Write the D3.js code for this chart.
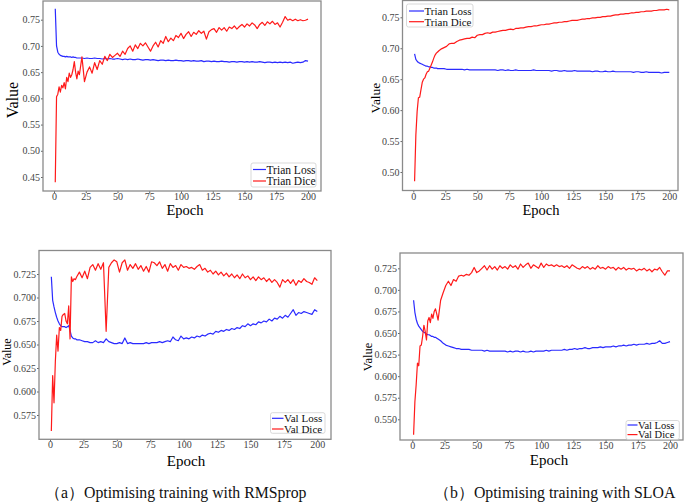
<!DOCTYPE html>
<html>
<head>
<meta charset="utf-8">
<script src="https://cdn.jsdelivr.net/npm/d3@7"></script>
<style>
body { margin: 0; background: #fff; }
svg text { font-family: "Liberation Serif", "DejaVu Serif", serif; }
.axis text { fill: #444; font-size: 10px; font-family: "Liberation Serif", "DejaVu Serif", serif; }
.axis line { stroke: #666; }
</style>
</head>
<body>
<svg id="chart" width="685" height="504"></svg>
<script>
var epochs = [1,2,3,4,5,6,7,8,9,10,11,12,13,14,15,16,17,18,19,20,
	22,24,26,28,30,32,34,36,38,40,42,44,46,48,50,52,54,56,58,60,
	62,64,66,68,70,72,74,76,78,80,82,84,86,88,90,92,94,96,98,100,
	102,104,106,108,110,112,114,116,118,120,122,124,126,128,130,132,134,136,138,140,
	142,144,146,148,150,152,154,156,158,160,162,164,166,168,170,172,174,176,178,180,
	182,184,186,188,190,192,194,196,198,200];

// (a) RMSprop, training
var rmsTrainLoss = [0.771,0.700,0.688,0.684,0.682,0.681,0.680,0.680,0.679,0.680,0.679,0.679,0.679,0.678,0.679,0.678,0.678,0.677,0.677,0.677,
	0.677,0.676,0.677,0.676,0.676,0.677,0.676,0.676,0.675,0.676,0.675,0.676,0.675,0.675,0.676,0.675,0.674,0.675,0.674,0.675,
	0.674,0.674,0.675,0.674,0.673,0.674,0.674,0.673,0.674,0.673,0.672,0.673,0.673,0.672,0.673,0.672,0.672,0.673,0.672,0.672,
	0.671,0.672,0.672,0.671,0.672,0.671,0.671,0.672,0.670,0.671,0.671,0.670,0.671,0.670,0.670,0.671,0.670,0.670,0.669,0.670,
	0.670,0.669,0.670,0.670,0.669,0.670,0.669,0.670,0.669,0.669,0.670,0.669,0.668,0.669,0.669,0.668,0.669,0.668,0.669,0.668,
	0.669,0.668,0.669,0.667,0.668,0.669,0.668,0.669,0.672,0.671];
var rmsTrainDice = [0.440,0.603,0.608,0.622,0.612,0.625,0.620,0.630,0.618,0.640,0.632,0.648,0.640,0.645,0.655,0.670,0.650,0.637,0.652,0.645,
	0.679,0.632,0.650,0.660,0.648,0.668,0.655,0.672,0.665,0.680,0.672,0.684,0.678,0.682,0.686,0.680,0.690,0.684,0.695,0.700,
	0.690,0.702,0.695,0.705,0.700,0.706,0.698,0.690,0.700,0.707,0.698,0.710,0.705,0.718,0.708,0.715,0.710,0.720,0.716,0.724,
	0.714,0.722,0.727,0.718,0.726,0.722,0.729,0.724,0.728,0.713,0.727,0.731,0.733,0.726,0.735,0.730,0.735,0.728,0.736,0.733,
	0.738,0.732,0.737,0.741,0.736,0.742,0.738,0.744,0.740,0.733,0.741,0.745,0.739,0.746,0.742,0.747,0.741,0.744,0.736,0.745,
	0.756,0.749,0.751,0.748,0.751,0.748,0.750,0.748,0.749,0.751];

// (b) SLOA, training
var sloaTrainLoss = [0.691,0.682,0.679,0.677,0.676,0.675,0.674,0.673,0.672,0.671,0.671,0.670,0.670,0.669,0.669,0.668,0.668,0.668,0.667,0.667,
	0.667,0.667,0.666,0.666,0.666,0.666,0.666,0.666,0.666,0.665,0.666,0.665,0.665,0.665,0.665,0.665,0.665,0.665,0.665,0.665,
	0.665,0.665,0.664,0.665,0.665,0.664,0.665,0.664,0.664,0.665,0.664,0.664,0.664,0.664,0.664,0.664,0.665,0.664,0.664,0.664,
	0.664,0.664,0.664,0.663,0.664,0.664,0.663,0.663,0.664,0.663,0.663,0.663,0.664,0.663,0.663,0.663,0.663,0.663,0.663,0.662,
	0.663,0.663,0.662,0.662,0.663,0.662,0.662,0.663,0.662,0.662,0.662,0.662,0.662,0.662,0.662,0.661,0.662,0.662,0.661,0.661,
	0.662,0.661,0.661,0.661,0.661,0.661,0.660,0.661,0.661,0.661];
var sloaTrainDice = [0.485,0.560,0.598,0.620,0.621,0.633,0.645,0.650,0.652,0.658,0.662,0.663,0.668,0.673,0.678,0.684,0.689,0.692,0.694,0.696,
	0.699,0.701,0.703,0.707,0.708,0.708,0.711,0.713,0.714,0.715,0.716,0.716,0.718,0.717,0.721,0.722,0.722,0.724,0.725,0.724,
	0.726,0.726,0.727,0.728,0.729,0.729,0.730,0.731,0.730,0.732,0.732,0.733,0.733,0.734,0.735,0.735,0.736,0.736,0.737,0.738,
	0.738,0.739,0.739,0.740,0.741,0.741,0.742,0.742,0.743,0.743,0.744,0.745,0.745,0.745,0.746,0.747,0.747,0.748,0.748,0.749,
	0.749,0.750,0.750,0.751,0.751,0.752,0.752,0.753,0.754,0.754,0.755,0.755,0.756,0.756,0.757,0.757,0.758,0.758,0.759,0.759,
	0.760,0.760,0.760,0.761,0.761,0.762,0.762,0.762,0.763,0.762];

// (a) RMSprop, validation
var rmsValLoss = [0.722,0.697,0.690,0.684,0.679,0.675,0.672,0.670,0.669,0.669,0.669,0.668,0.669,0.670,0.665,0.659,0.657,0.656,0.656,0.655,
	0.655,0.654,0.653,0.653,0.652,0.652,0.654,0.652,0.653,0.652,0.656,0.653,0.652,0.651,0.651,0.652,0.651,0.657,0.651,0.652,
	0.651,0.651,0.651,0.651,0.651,0.652,0.651,0.652,0.652,0.652,0.653,0.652,0.653,0.654,0.653,0.658,0.655,0.654,0.659,0.656,
	0.657,0.656,0.658,0.657,0.659,0.658,0.660,0.659,0.661,0.662,0.661,0.664,0.663,0.665,0.664,0.666,0.665,0.667,0.666,0.668,
	0.667,0.670,0.669,0.672,0.670,0.672,0.671,0.674,0.673,0.675,0.674,0.677,0.675,0.678,0.677,0.680,0.678,0.681,0.679,0.683,
	0.687,0.681,0.684,0.683,0.685,0.684,0.683,0.682,0.687,0.685];
var rmsValDice = [0.558,0.617,0.588,0.632,0.660,0.643,0.668,0.665,0.680,0.682,0.683,0.675,0.672,0.691,0.656,0.722,0.717,0.720,0.719,0.722,
	0.727,0.721,0.728,0.720,0.732,0.735,0.729,0.736,0.730,0.737,0.664,0.732,0.737,0.740,0.738,0.727,0.737,0.740,0.729,0.735,
	0.731,0.736,0.730,0.734,0.728,0.733,0.727,0.738,0.737,0.734,0.738,0.731,0.735,0.728,0.736,0.732,0.734,0.729,0.735,0.732,
	0.733,0.731,0.732,0.730,0.733,0.735,0.729,0.731,0.727,0.729,0.725,0.728,0.724,0.727,0.723,0.726,0.722,0.725,0.721,0.724,
	0.720,0.725,0.721,0.723,0.719,0.722,0.718,0.722,0.719,0.721,0.717,0.720,0.716,0.719,0.716,0.711,0.719,0.716,0.719,0.715,
	0.719,0.713,0.718,0.716,0.720,0.717,0.716,0.714,0.721,0.718];

// (b) SLOA, validation
var sloaValLoss = [0.688,0.674,0.666,0.661,0.658,0.656,0.654,0.652,0.651,0.650,0.649,0.648,0.648,0.647,0.646,0.646,0.645,0.645,0.644,0.643,
	0.641,0.638,0.636,0.635,0.634,0.633,0.632,0.632,0.631,0.631,0.631,0.631,0.630,0.630,0.630,0.630,0.630,0.629,0.630,0.629,
	0.629,0.629,0.629,0.629,0.629,0.629,0.628,0.629,0.628,0.629,0.629,0.628,0.629,0.628,0.628,0.629,0.628,0.629,0.629,0.629,
	0.629,0.630,0.629,0.630,0.630,0.630,0.630,0.630,0.631,0.630,0.631,0.631,0.632,0.631,0.632,0.632,0.633,0.632,0.632,0.633,
	0.633,0.633,0.634,0.633,0.634,0.634,0.634,0.635,0.634,0.635,0.635,0.636,0.635,0.636,0.636,0.637,0.636,0.637,0.637,0.637,
	0.638,0.637,0.638,0.638,0.639,0.641,0.638,0.638,0.639,0.640];
var sloaValDice = [0.532,0.570,0.590,0.615,0.612,0.635,0.636,0.646,0.659,0.652,0.642,0.664,0.668,0.662,0.672,0.667,0.675,0.678,0.672,0.665,
	0.688,0.697,0.705,0.710,0.705,0.712,0.710,0.716,0.717,0.716,0.718,0.717,0.720,0.726,0.720,0.722,0.725,0.728,0.723,0.728,
	0.724,0.727,0.723,0.728,0.725,0.727,0.724,0.729,0.726,0.728,0.724,0.730,0.726,0.729,0.731,0.725,0.729,0.727,0.725,0.731,
	0.726,0.730,0.728,0.729,0.727,0.729,0.727,0.728,0.726,0.728,0.725,0.729,0.727,0.725,0.724,0.727,0.725,0.727,0.724,0.726,
	0.724,0.728,0.725,0.726,0.724,0.727,0.725,0.726,0.723,0.726,0.724,0.726,0.723,0.725,0.724,0.725,0.722,0.724,0.723,0.725,
	0.722,0.724,0.721,0.724,0.723,0.726,0.721,0.717,0.722,0.722];

var xTicks = [0,25,50,75,100,125,150,175,200];
var rmsTrainTicks = [0.45,0.50,0.55,0.60,0.65,0.70,0.75];
var sloaTrainTicks = [0.50,0.55,0.60,0.65,0.70,0.75];
var rmsValTicks = [0.575,0.600,0.625,0.650,0.675,0.700,0.725];
var sloaValTicks = [0.550,0.575,0.600,0.625,0.650,0.675,0.700,0.725];
var trainNames = ["Trian Loss", "Trian Dice"];
var valNames = ["Val Loss", "Val Dice"];
var captions = ["（a）Optimising training with RMSprop", "（b）Optimising training with SLOA"];

var lossColor = "#2a2aff",
    diceColor = "#ff1a1a";

/* layout of the four panels (pixels) */
var panels = [
	{frame: [43, 1, 321, 191], xr: [54, 308], yd: [0.45, 0.75], yr: [177, 19.7], ticks: rmsTrainTicks, fmt: ".2f",
	 yLab: [12, 100, 16], xLab: [185, 215, 14.5],
	 leg: {x: 251, y: 163, w: 65, h: 24, rows: [169.5, 181], l0: 253, l1: 266, size: 11.5},
	 names: trainNames, loss: rmsTrainLoss, dice: rmsTrainDice},
	{frame: [402.5, 0.5, 678, 190.5], xr: [413.3, 669.3], yd: [0.50, 0.75], yr: [172, 17.3], ticks: sloaTrainTicks, fmt: ".2f",
	 yLab: [375, 98, 13.5], xLab: [541, 215, 14.5],
	 leg: {x: 406.5, y: 4, w: 66.5, h: 23, rows: [11, 21.7], l0: 409, l1: 424, size: 11},
	 names: trainNames, loss: sloaTrainLoss, dice: sloaTrainDice},
	{frame: [39, 250.5, 331, 439.3], xr: [50, 317.3], yd: [0.575, 0.725], yr: [415, 274], ticks: rmsValTicks, fmt: ".3f",
	 yLab: [7, 352, 12], xLab: [186, 465.5, 15],
	 leg: {x: 270.5, y: 412.7, w: 54.5, h: 20.6, rows: [418.3, 429], l0: 272, l1: 283.5, size: 11},
	 names: valNames, loss: rmsValLoss, dice: rmsValDice},
	{frame: [400, 253, 683, 440], xr: [412.3, 670], yd: [0.550, 0.725], yr: [419.3, 268.3], ticks: sloaValTicks, fmt: ".3f",
	 yLab: [368, 357, 12.5], xLab: [549, 465, 15],
	 leg: {x: 626, y: 420.5, w: 53.3, h: 19, rows: [425, 434.6], l0: 627.5, l1: 637.5, size: 10.5},
	 names: valNames, loss: sloaValLoss, dice: sloaValDice}
];

var svg = d3.select("#chart");

var drawPanel = function(p) {
	var g = svg.append("g");
	var x = d3.scaleLinear().domain([0, 200]).range(p.xr);
	var y = d3.scaleLinear().domain(p.yd).range(p.yr);
	var f = p.frame;

	var xAxis = d3.axisBottom(x).tickValues(xTicks).tickSize(2).tickPadding(0);
	var yAxis = d3.axisLeft(y).tickValues(p.ticks).tickFormat(d3.format(p.fmt)).tickSize(2).tickPadding(1);

	g.append("g")
		.attr("class", "axis")
		.attr("transform", "translate(0," + f[3] + ")")
		.call(xAxis)
		.select(".domain").remove();
	g.append("g")
		.attr("class", "axis")
		.attr("transform", "translate(" + f[0] + ",0)")
		.call(yAxis)
		.select(".domain").remove();

	var line = d3.line()
		.x(function(d) { return x(d[0]); })
		.y(function(d) { return y(d[1]); });

	g.append("path")
		.datum(d3.zip(epochs, p.loss))
		.attr("d", line)
		.attr("fill", "none")
		.attr("stroke", lossColor)
		.attr("stroke-width", 1.2)
		.attr("stroke-linejoin", "round");
	g.append("path")
		.datum(d3.zip(epochs, p.dice))
		.attr("d", line)
		.attr("fill", "none")
		.attr("stroke", diceColor)
		.attr("stroke-width", 1.2)
		.attr("stroke-linejoin", "round");

	g.append("rect")
		.attr("x", f[0]).attr("y", f[1])
		.attr("width", f[2] - f[0]).attr("height", f[3] - f[1])
		.attr("fill", "none")
		.attr("stroke", "#8a8a8a")
		.attr("stroke-width", 1.3);

	/* legend */
	var L = p.leg;
	g.append("rect")
		.attr("x", L.x).attr("y", L.y)
		.attr("width", L.w).attr("height", L.h)
		.attr("rx", 2)
		.attr("fill", "#fff")
		.attr("fill-opacity", 0.85)
		.attr("stroke", "#cfcfcf")
		.attr("stroke-width", 0.8);
	var cols = [lossColor, diceColor];
	p.names.forEach(function(name, i) {
		g.append("line")
			.attr("x1", L.l0).attr("x2", L.l1)
			.attr("y1", L.rows[i]).attr("y2", L.rows[i])
			.attr("stroke", cols[i])
			.attr("stroke-width", 1.2);
		g.append("text")
			.attr("x", L.l1 + 0.5)
			.attr("y", L.rows[i])
			.attr("dy", "0.35em")
			.attr("font-size", L.size)
			.attr("fill", "#111")
			.text(name);
	});

	/* axis titles */
	g.append("text")
		.attr("transform", "translate(" + p.yLab[0] + "," + p.yLab[1] + ") rotate(-90)")
		.attr("text-anchor", "middle")
		.attr("dy", "0.35em")
		.attr("font-size", p.yLab[2])
		.attr("fill", "#000")
		.text("Value");
	g.append("text")
		.attr("x", p.xLab[0])
		.attr("y", p.xLab[1])
		.attr("text-anchor", "middle")
		.attr("font-size", p.xLab[2])
		.attr("fill", "#000")
		.text("Epoch");
};

panels.forEach(drawPanel);

svg.selectAll(".caption")
	.data(captions)
	.enter()
	.append("text")
	.attr("class", "caption")
	.attr("x", function(d, i) { return i === 0 ? 45 : 434; })
	.attr("y", 498)
	.attr("font-size", 15.8)
	.attr("fill", "#111")
	.text(function(d) { return d; });
</script>
</body>
</html>
